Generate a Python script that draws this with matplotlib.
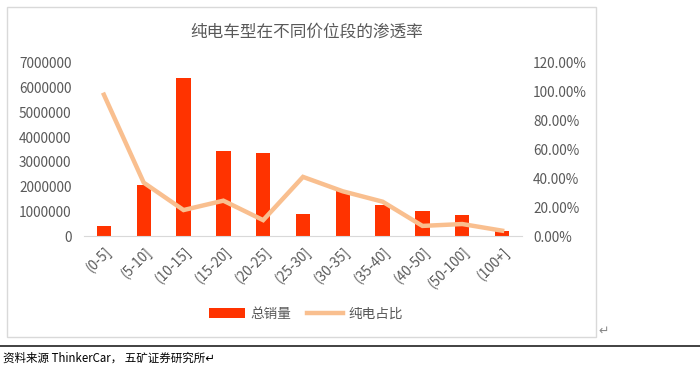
import matplotlib
matplotlib.use("Agg")
import matplotlib.pyplot as plt
from matplotlib.patches import Rectangle
from matplotlib.lines import Line2D
from matplotlib.ticker import FuncFormatter

plt.rcParams['font.family'] = ['Noto Sans CJK SC', 'DejaVu Sans']

categories = ["(0-5]", "(5-10]", "(10-15]", "(15-20]", "(20-25]", "(25-30]",
              "(30-35]", "(35-40]", "(40-50]", "(50-100]", "(100+]"]
total_sales = [417000, 2070000, 6400000, 3450000, 3340000, 900000,
               1840000, 1260000, 1010000, 860000, 210000]
bev_share = [0.98, 0.37, 0.18, 0.245, 0.11, 0.41, 0.31, 0.238, 0.07, 0.083, 0.037]

left_ticks = [0, 1000000, 2000000, 3000000, 4000000, 5000000, 6000000, 7000000]
right_ticks = [0, 0.2, 0.4, 0.6, 0.8, 1.0, 1.2]

title = "纯电车型在不同价位段的渗透率"
source = "资料来源 ThinkerCar， 五矿证券研究所"

W, H = 700, 369
fig = plt.figure(figsize=(W / 100, H / 100), dpi=100)

# chart frame
fig.patches.append(Rectangle((7 / W, 1 - 337 / H), (596 - 7) / W, (337 - 7) / H,
                             transform=fig.transFigure, fill=False,
                             edgecolor="#d9d9d9", linewidth=1.0))
# separator line
fig.add_artist(Line2D([0, 1], [1 - 346 / H, 1 - 346 / H], transform=fig.transFigure,
                      color="#333333", linewidth=1.3))

ax = fig.add_axes([84 / W, 1 - 236 / H, (522 - 84) / W, (236 - 63) / H])
x = list(range(len(categories)))
ax.bar(x, total_sales, width=0.36, color="#FF3300", label="总销量", zorder=2)
ax.set_xlim(-0.5, len(categories) - 0.5)
ax.set_ylim(0, 7000000)
ax.set_yticks(left_ticks)
ax.set_yticklabels([str(v) for v in left_ticks])
ax.set_xticks(x)
ax.set_xticklabels(categories, rotation=45, ha="right", rotation_mode="anchor")
for s in ["top", "right", "left"]:
    ax.spines[s].set_visible(False)
ax.spines["bottom"].set_color("#d9d9d9")
ax.tick_params(axis="both", length=0, colors="#595959", labelsize=9.8)
ax.tick_params(axis="y", pad=9)
ax.tick_params(axis="x", pad=6)

ax2 = ax.twinx()
ax2.plot(x, bev_share, color="#F9BF8F", linewidth=3.2, label="纯电占比", zorder=3,
         solid_joinstyle="miter")
ax2.set_ylim(0, 1.2)
ax2.set_yticks(right_ticks)
ax2.yaxis.set_major_formatter(FuncFormatter(lambda v, p: f"{v * 100:.2f}%"))
for s in ["top", "right", "left", "bottom"]:
    ax2.spines[s].set_visible(False)
ax2.tick_params(axis="y", length=0, colors="#595959", labelsize=9.8, pad=8)

fig.text(307 / W, 1 - 32 / H, title, ha="center", va="center", fontsize=12,
         color="#595959")

h1, l1 = ax.get_legend_handles_labels()
h2, l2 = ax2.get_legend_handles_labels()
fig.legend(h1 + h2, l1 + l2, loc="center", bbox_to_anchor=(306 / W, 1 - 314 / H),
           ncol=2, frameon=False, fontsize=9.8, labelcolor="#595959",
           handlelength=2.6, columnspacing=1.2, handletextpad=0.4)

fig.text(598 / W, 1 - 331 / H, "↵", ha="left", va="center", fontsize=9, color="#888888")
fig.text(3 / W, 1 - 358 / H, source + "↵", ha="left", va="center", fontsize=8.3,
         color="#000000")

fig.savefig("out.png", dpi=100)
